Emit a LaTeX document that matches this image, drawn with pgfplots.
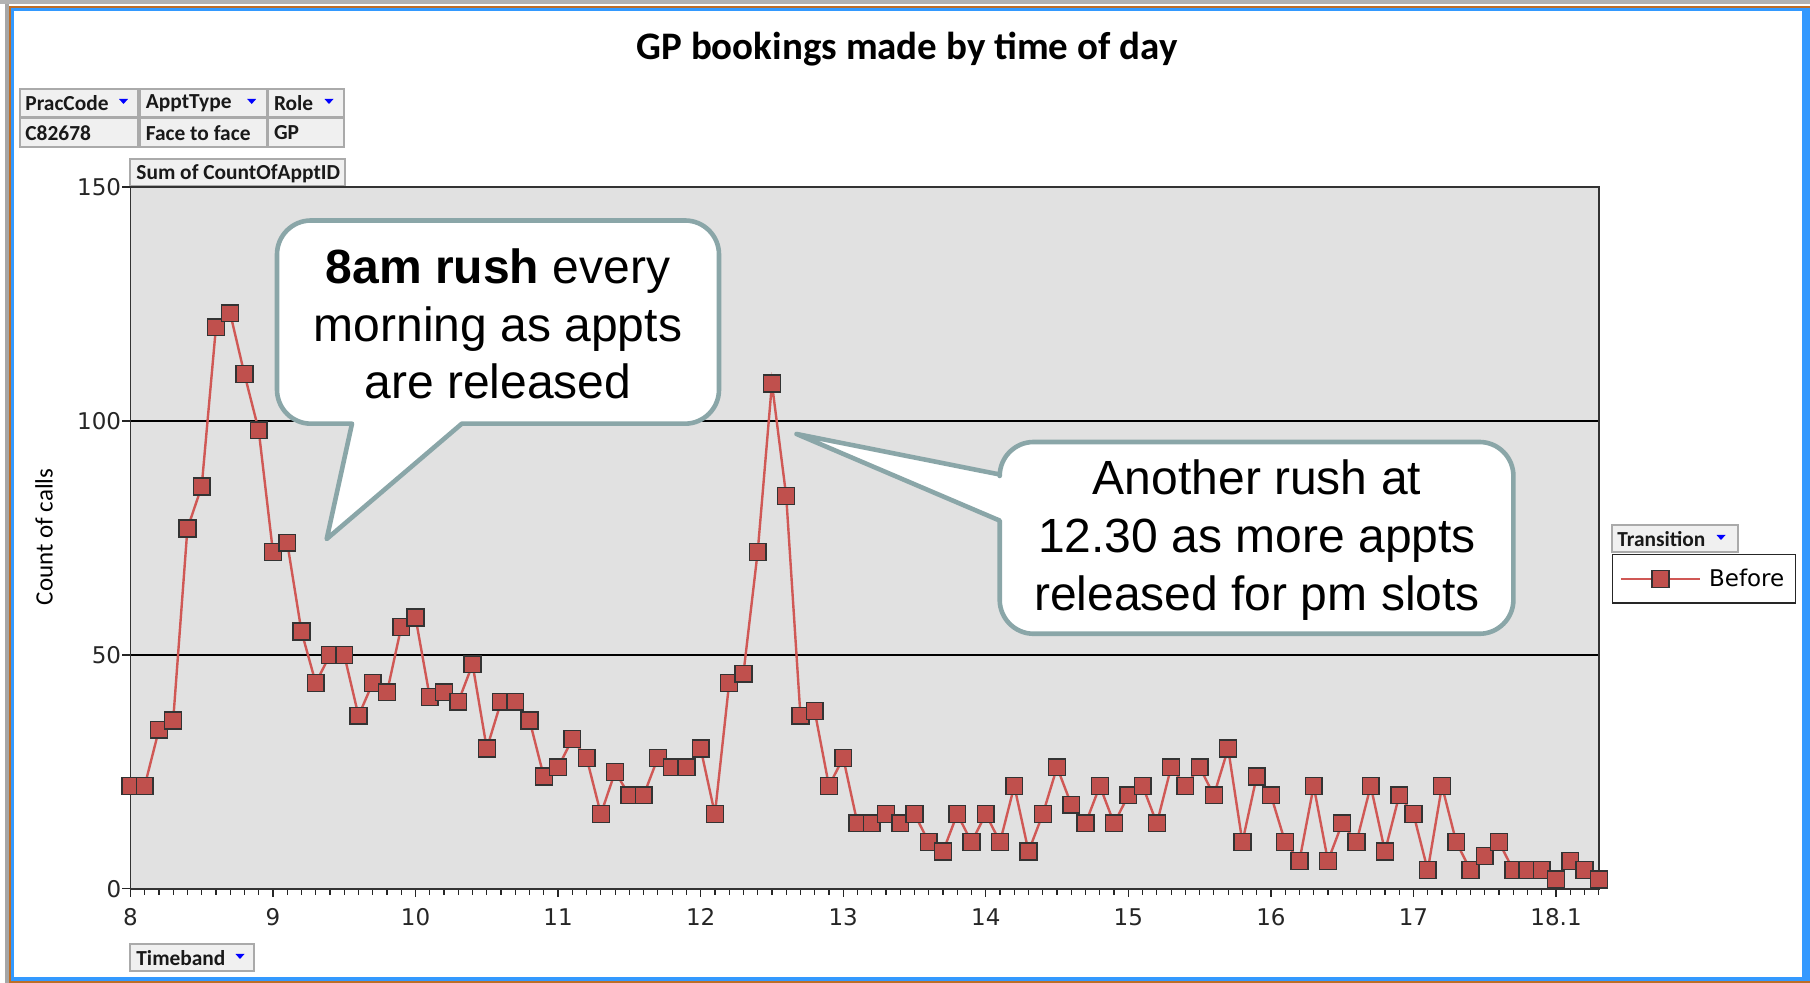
\documentclass[border=0pt]{standalone}
\usepackage{fontspec}
\setmainfont{Liberation Sans}
\newfontfamily\tickfont{DejaVu Sans}
\newfontfamily\cali{Carlito}
\usepackage{pgfplots}
\pgfplotsset{compat=1.18}
\definecolor{plotbg}{RGB}{225,225,225}
\definecolor{serline}{RGB}{208,88,85}
\definecolor{serfill}{RGB}{192,80,77}
\definecolor{callb}{RGB}{138,166,168}
\definecolor{btnfill}{RGB}{240,240,240}
\definecolor{btnedge}{RGB}{170,170,170}
\definecolor{frameblue}{RGB}{51,153,255}
\definecolor{frameorange}{RGB}{190,110,40}
\pgfplotstableread{
x y
0 22
1 22
2 34
3 36
4 77
5 86
6 120
7 123
8 110
9 98
10 72
11 74
12 55
13 44
14 50
15 50
16 37
17 44
18 42
19 56
20 58
21 41
22 42
23 40
24 48
25 30
26 40
27 40
28 36
29 24
30 26
31 32
32 28
33 16
34 25
35 20
36 20
37 28
38 26
39 26
40 30
41 16
42 44
43 46
44 72
45 108
46 84
47 37
48 38
49 22
50 28
51 14
52 14
53 16
54 14
55 16
56 10
57 8
58 16
59 10
60 16
61 10
62 22
63 8
64 16
65 26
66 18
67 14
68 22
69 14
70 20
71 22
72 14
73 26
74 22
75 26
76 20
77 30
78 10
79 24
80 20
81 10
82 6
83 22
84 6
85 14
86 10
87 22
88 8
89 20
90 16
91 4
92 22
93 10
94 4
95 7
96 10
97 4
98 4
99 4
100 2
101 6
102 4
103 2
}\bookings
\newcommand\btntext[3]{\node[anchor=west, font=\cali\bfseries\fontsize{10.7}{12}\selectfont, inner sep=0pt, text=black!90] at (#1,#2) {#3};}
\newcommand\tri[2]{\fill[blue] (#1-4.5,#2-2.5) -- (#1+4.5,#2-2.5) -- (#1,#2+2.5) -- cycle;}
\begin{document}
\begin{tikzpicture}
\useasboundingbox (0,0) rectangle (905pt,491.5pt);
\begin{scope}[shift={(0pt,491.5pt)}, x=0.5pt, y=-0.5pt]
  \fill[white] (0,0) rectangle (1810,983);
  \fill[gray!60] (0,0) rectangle (1810,4);
  \fill[gray!70] (5,4) rectangle (8.5,983);
  \fill[frameorange] (8.5,6) rectangle (1810,8);
  \fill[frameorange] (8.5,6) rectangle (10.5,983);
  \fill[frameorange] (8.5,981) rectangle (1810,983);
  \fill[frameblue] (10.5,8) rectangle (1810,11.5);
  \fill[frameblue] (10.5,8) rectangle (13.5,981);
  \fill[frameblue] (10.5,977) rectangle (1810,981);
  \fill[frameblue] (1802,8) rectangle (1810,981);
  % title
  \node[font=\cali\bfseries\fontsize{19.5}{23}\selectfont, anchor=base] at (907,60) {GP bookings made by time of day};
  % filter buttons
  \draw[btnedge, fill=btnfill, line width=1pt] (20,89) rectangle (138,117);
  \draw[btnedge, fill=btnfill, line width=1pt] (140,89) rectangle (266.5,117);
  \draw[btnedge, fill=btnfill, line width=1pt] (268,89) rectangle (344,117);
  \draw[btnedge, fill=btnfill, line width=1pt] (20,118) rectangle (138,147);
  \draw[btnedge, fill=btnfill, line width=1pt] (140,118) rectangle (266.5,147);
  \draw[btnedge, fill=btnfill, line width=1pt] (268,118) rectangle (344,147);
  \btntext{25}{103.5}{PracCode}
  \btntext{145.5}{103.5}{ApptType}
  \btntext{273.6}{103.5}{Role}
  \btntext{25}{133}{C82678}
  \btntext{145.5}{133}{Face to face}
  \btntext{273.6}{133}{GP}
  \tri{123.5}{101.5}
  \tri{251.7}{101.5}
  \tri{329}{101.5}
  \draw[btnedge, fill=btnfill, line width=1pt] (130,159) rectangle (345,186);
  \btntext{136}{173.5}{Sum of CountOfApptID}
  % timeband
  \draw[btnedge, fill=btnfill, line width=1pt] (130,944) rectangle (254,971);
  \btntext{136}{958.5}{Timeband}
  \tri{240}{956.5}
  % transition
  \draw[btnedge, fill=btnfill, line width=1pt] (1612,525) rectangle (1738,552);
  \btntext{1617}{539.5}{Transition}
  \tri{1721}{537.5}
  % y label
  \node[rotate=90, font=\cali\fontsize{12.5}{15}\selectfont] at (44,537) {Count of calls};
\end{scope}
\begin{axis}[
  at={(65.2pt,47.05pt)}, anchor=south west,
  scale only axis, width=734.2pt, height=350.95pt,
  xmin=0, xmax=103, ymin=0, ymax=150,
  axis background/.style={fill=plotbg},
  xtick={0,10,...,100},
  xticklabels={8,9,10,11,12,13,14,15,16,17,18.1},
  minor xtick={0,...,103},
  ytick={0,50,100,150},
  yticklabels={0,50,100,150},
  ymajorgrids, grid style={black, line width=0.6pt},
  tick align=outside, tick pos=left,
  major tick length=4pt, minor tick length=3pt,
  tick style={black!85, line width=0.6pt},
  axis line style={black!80, line width=0.8pt},
  ticklabel style={font=\tickfont\fontsize{11.5}{13}\selectfont, text=black!85},
  yticklabel style={xshift=2.9pt},
  xticklabel style={yshift=-2.3pt},
  clip=false,
  legend style={at={(rel axis cs:1.009,0.4771)}, anchor=north west, draw=black!85, line width=0.7pt, fill=white, font=\tickfont\fontsize{11.5}{13}\selectfont, inner xsep=3.5pt, inner ysep=5pt},
  legend image code/.code={\draw[mark repeat=2,mark phase=2,#1] plot coordinates {(0pt,0pt) (19.75pt,0pt) (39.5pt,0pt)};},
]
\addplot[color=serline, line width=1.2pt, mark=square*, mark size=4.2pt,
  mark options={fill=serfill, draw=black!80, line width=0.7pt, solid}]
  table[x=x, y=y] {\bookings};
\addlegendentry{\hspace{2pt}Before}
\end{axis}
\begin{scope}[shift={(0pt,491.5pt)}, x=0.5pt, y=-0.5pt]
  % callout 1
  \draw[callb, line width=2.3pt, line join=round, fill=white, rounded corners=17pt]
    (277,322) -- (277,220.5) -- (719,220.5) -- (719,423.7) [sharp corners] -- (461.8,423.7) -- (326.7,539) -- (352,423.7) [rounded corners=17pt] -- (277,423.7) -- cycle;
  \node[align=center, font=\fontsize{24}{28.9}\selectfont] at (498,324) {{\bfseries 8am rush} every\\morning as appts\\are released};
  % callout 2
  \draw[callb, line width=2.3pt, line join=round, fill=white, rounded corners=17pt]
    (1256,442) -- (1513.4,442) -- (1513.4,633.8) -- (999.7,633.8) [sharp corners] -- (999.7,520.6) -- (796.5,434) -- (999.7,474.5) [rounded corners=17pt] -- (999.7,442) -- cycle;
  \node[align=center, font=\fontsize{24}{28.9}\selectfont] at (1257,540) {Another rush at\\12.30 as more appts\\released for pm slots};
\end{scope}
\end{tikzpicture}
\end{document}
